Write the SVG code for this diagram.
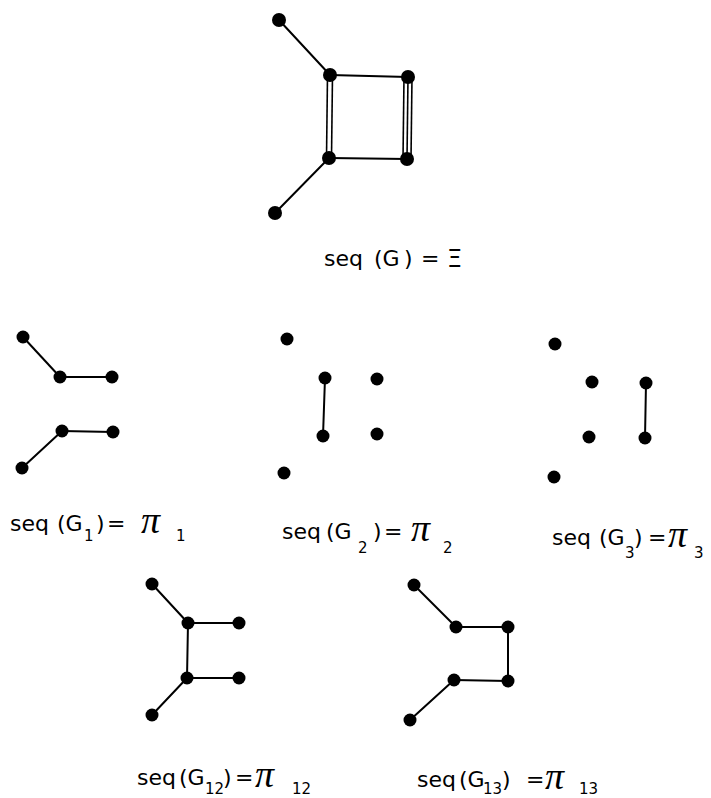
<svg xmlns="http://www.w3.org/2000/svg" width="711" height="798" viewBox="0 0 711 798">
<style>
.e{stroke:#000;stroke-width:2;fill:none;stroke-linecap:round}
.e1{stroke:#000;stroke-width:1.6;fill:none}
.n{fill:#000}
.t{font-family:"DejaVu Sans",sans-serif;font-size:22px;fill:#000}
.s{font-family:"DejaVu Sans",sans-serif;font-size:15px;fill:#000}
.p{font-family:"Liberation Serif",serif;font-style:italic;font-size:38px;fill:#000}
</style>
<rect width="711" height="798" fill="#fff"/>
<g id="connectors">
<line class="e" x1="279" y1="20" x2="330" y2="75"/>
<line class="e" x1="330" y1="75" x2="408" y2="77"/>
<line class="e" x1="329" y1="158" x2="407" y2="159"/>
<line class="e" x1="329" y1="158" x2="275" y2="213"/>
<line class="e1" x1="327.5" y1="75" x2="326.5" y2="158"/>
<line class="e1" x1="332.5" y1="75" x2="331.5" y2="158"/>
<line class="e1" x1="404" y1="77" x2="403" y2="159"/>
<line class="e1" x1="408" y1="77" x2="407" y2="159"/>
<line class="e1" x1="412" y1="77" x2="411" y2="159"/>
<line class="e" x1="23" y1="337" x2="60" y2="377"/>
<line class="e" x1="60" y1="377" x2="112" y2="377"/>
<line class="e" x1="62" y1="431" x2="113" y2="432"/>
<line class="e" x1="62" y1="431" x2="22" y2="468"/>
<line class="e" x1="325" y1="378" x2="323" y2="436"/>
<line class="e" x1="646" y1="383" x2="645" y2="438"/>
<line class="e" x1="152" y1="584" x2="188" y2="623"/>
<line class="e" x1="188" y1="623" x2="239" y2="623"/>
<line class="e" x1="188" y1="623" x2="187" y2="678"/>
<line class="e" x1="187" y1="678" x2="239" y2="678"/>
<line class="e" x1="187" y1="678" x2="152" y2="715"/>
<line class="e" x1="414" y1="585" x2="456" y2="627"/>
<line class="e" x1="456" y1="627" x2="508" y2="627"/>
<line class="e" x1="508" y1="627" x2="508" y2="681"/>
<line class="e" x1="454" y1="680" x2="508" y2="681"/>
<line class="e" x1="454" y1="680" x2="410" y2="720"/>
</g>
<g id="G">
<circle class="n" cx="279" cy="20" r="7"/>
<circle class="n" cx="330" cy="75" r="7"/>
<circle class="n" cx="408" cy="77" r="7"/>
<circle class="n" cx="329" cy="158" r="7"/>
<circle class="n" cx="407" cy="159" r="7"/>
<circle class="n" cx="275" cy="213" r="7"/>
</g>
<g id="G1">
<circle class="n" cx="23" cy="337" r="6.5"/>
<circle class="n" cx="60" cy="377" r="6.5"/>
<circle class="n" cx="112" cy="377" r="6.5"/>
<circle class="n" cx="62" cy="431" r="6.5"/>
<circle class="n" cx="113" cy="432" r="6.5"/>
<circle class="n" cx="22" cy="468" r="6.5"/>
</g>
<g id="G2">
<circle class="n" cx="287" cy="339" r="6.5"/>
<circle class="n" cx="325" cy="378" r="6.5"/>
<circle class="n" cx="377" cy="379" r="6.5"/>
<circle class="n" cx="323" cy="436" r="6.5"/>
<circle class="n" cx="377" cy="434" r="6.5"/>
<circle class="n" cx="284" cy="473" r="6.5"/>
</g>
<g id="G3">
<circle class="n" cx="555" cy="344" r="6.5"/>
<circle class="n" cx="592" cy="382" r="6.5"/>
<circle class="n" cx="646" cy="383" r="6.5"/>
<circle class="n" cx="589" cy="437" r="6.5"/>
<circle class="n" cx="645" cy="438" r="6.5"/>
<circle class="n" cx="554" cy="477" r="6.5"/>
</g>
<g id="G12">
<circle class="n" cx="152" cy="584" r="6.5"/>
<circle class="n" cx="188" cy="623" r="6.5"/>
<circle class="n" cx="239" cy="623" r="6.5"/>
<circle class="n" cx="187" cy="678" r="6.5"/>
<circle class="n" cx="239" cy="678" r="6.5"/>
<circle class="n" cx="152" cy="715" r="6.5"/>
</g>
<g id="G13">
<circle class="n" cx="414" cy="585" r="6.5"/>
<circle class="n" cx="456" cy="627" r="6.5"/>
<circle class="n" cx="508" cy="627" r="6.5"/>
<circle class="n" cx="454" cy="680" r="6.5"/>
<circle class="n" cx="508" cy="681" r="6.5"/>
<circle class="n" cx="410" cy="720" r="6.5"/>
</g>
<g id="labels">
<g id="label-G">
<text class="t" x="324" y="266">seq</text>
<text class="t" x="374" y="266">(G</text>
<text class="t" x="404" y="266">)</text>
<text class="t" x="421" y="266">=</text>
<text class="t" x="447" y="267" style="font-size:24px">Ξ</text>
</g>
<g id="label-G1">
<text class="t" x="10" y="531">seq</text>
<text class="t" x="57" y="531">(G</text>
<text class="s" x="84" y="541">1</text>
<text class="t" x="96" y="531">)</text>
<text class="t" x="107" y="531">=</text>
<text class="p" x="141" y="533">π</text>
<text class="s" x="176" y="541">1</text>
</g>
<g id="label-G2">
<text class="t" x="282" y="539">seq</text>
<text class="t" x="326" y="539">(G</text>
<text class="s" x="358" y="553">2</text>
<text class="t" x="373" y="539">)</text>
<text class="t" x="384" y="539">=</text>
<text class="p" x="411" y="541">π</text>
<text class="s" x="443" y="553">2</text>
</g>
<g id="label-G3">
<text class="t" x="552" y="545">seq</text>
<text class="t" x="599" y="545">(G</text>
<text class="s" x="625" y="558">3</text>
<text class="t" x="634" y="545">)</text>
<text class="t" x="648" y="545">=</text>
<text class="p" x="668" y="547">π</text>
<text class="s" x="694" y="558">3</text>
</g>
<g id="label-G12">
<text class="t" x="137" y="785">seq</text>
<text class="t" x="179" y="785">(G</text>
<text class="s" x="205" y="794">12</text>
<text class="t" x="223" y="785">)</text>
<text class="t" x="235" y="785">=</text>
<text class="p" x="255" y="787">π</text>
<text class="s" x="292" y="794">12</text>
</g>
<g id="label-G13">
<text class="t" x="417" y="787">seq</text>
<text class="t" x="459" y="787">(G</text>
<text class="s" x="483" y="794">13</text>
<text class="t" x="502" y="787">)</text>
<text class="t" x="526" y="787">=</text>
<text class="p" x="545" y="789">π</text>
<text class="s" x="579" y="794">13</text>
</g>
</g>
</svg>
